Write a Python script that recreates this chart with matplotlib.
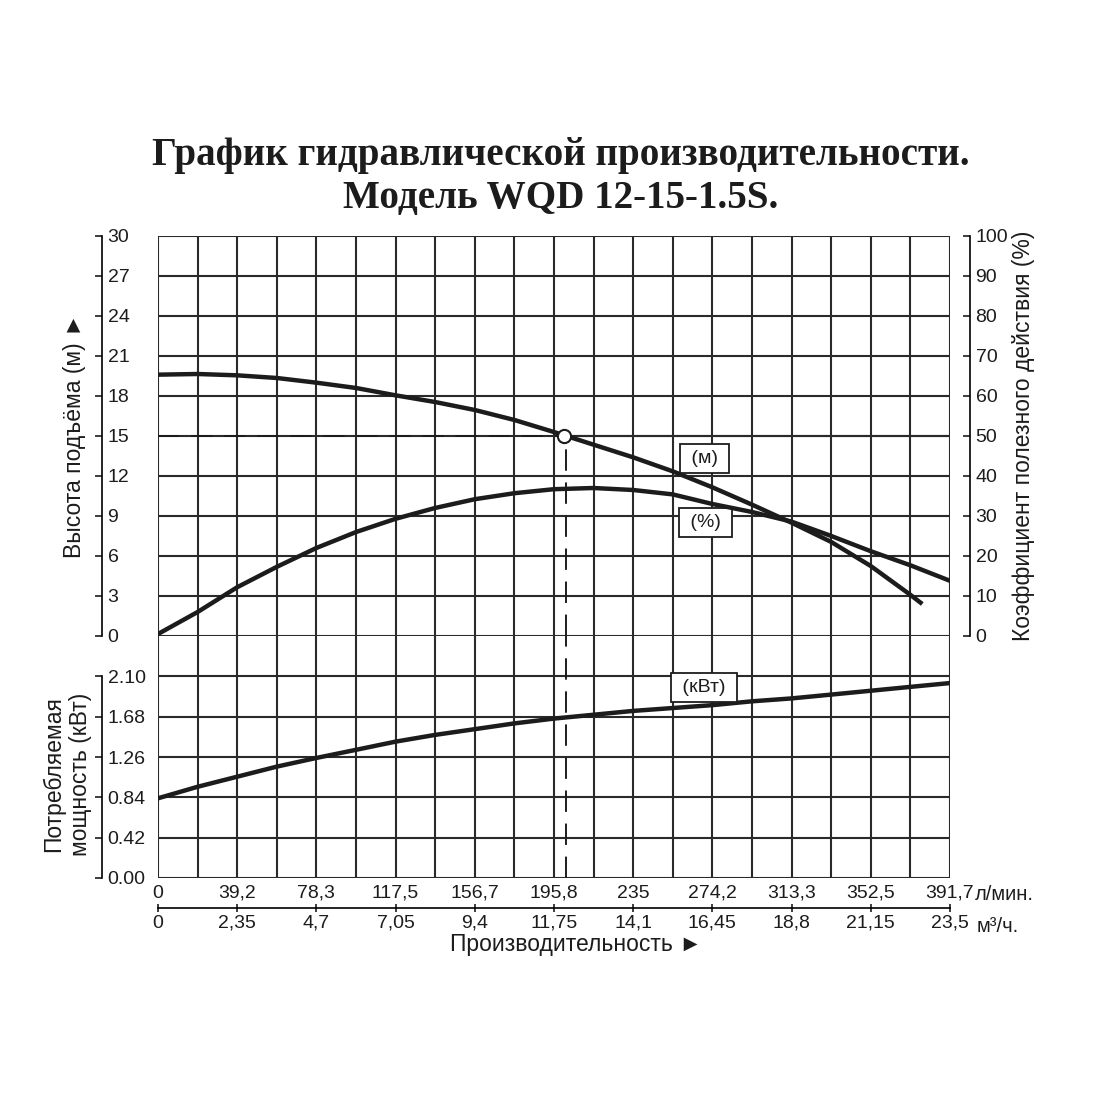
import numpy as np
import matplotlib
matplotlib.use("Agg")
import matplotlib.pyplot as plt

plt.rcParams['font.family'] = ['Liberation Sans', 'DejaVu Sans']

# --- data ---------------------------------------------------------------
q_max = 391.7          # л/мин
m3h_max = 23.5         # м3/ч
design_q = 201.0
design_h = 15.0

head_q = [0, 19.6, 39.2, 58.8, 78.3, 98, 117.5, 137, 156.7, 176.3, 195.8,
          215.4, 235, 254.6, 274.2, 293.8, 313.3, 333, 352.5, 372, 378]
head_m = [19.6, 19.65, 19.55, 19.35, 19.0, 18.6, 18.05, 17.55, 16.95, 16.2, 15.3,
          14.35, 13.4, 12.35, 11.15, 9.85, 8.5, 7.05, 5.25, 3.1, 2.4]

eff_q = [0, 19.6, 39.2, 58.8, 78.3, 98, 117.5, 137, 156.7, 176.3, 195.8,
         215.4, 235, 254.6, 274.2, 293.8, 313.3, 333, 352.5, 372, 391.7]
eff_pct = [0.5, 6.0, 12.2, 17.3, 22.0, 26.0, 29.3, 32.0, 34.2, 35.7, 36.7,
           37.0, 36.5, 35.4, 33.0, 31.0, 28.6, 25.0, 21.2, 17.7, 13.8]

pow_q = [0, 19.6, 39.2, 58.8, 78.3, 98, 117.5, 137, 156.7, 176.3, 195.8,
         215.4, 235, 254.6, 274.2, 293.8, 313.3, 333, 352.5, 372, 391.7]
pow_kw = [0.83, 0.95, 1.055, 1.16, 1.25, 1.335, 1.42, 1.49, 1.55, 1.61, 1.66,
          1.70, 1.74, 1.77, 1.80, 1.84, 1.87, 1.91, 1.95, 1.99, 2.03]

lpm_labels = ["0", "39,2", "78,3", "117,5", "156,7", "195,8", "235",
              "274,2", "313,3", "352,5", "391,7"]
m3h_labels = ["0", "2,35", "4,7", "7,05", "9,4", "11,75", "14,1",
              "16,45", "18,8", "21,15", "23,5"]
head_ticks = list(range(0, 31, 3))
eff_ticks = list(range(0, 101, 10))
pow_ticks = [0.0, 0.42, 0.84, 1.26, 1.68, 2.10]

INK = "#1c1c1c"
GRID = "#2a2a2a"
TICK_FS = 14
LABEL_FS = 16.5

lpm_ticks = np.linspace(0, q_max, 11)
m3h_ticks = np.linspace(0, m3h_max, 11)
grid_q = np.linspace(0, q_max, 21)

fig = plt.figure(figsize=(11, 11), dpi=100)
L, W = 158 / 1100, 792 / 1100
ax_h = fig.add_axes([L, 464 / 1100, W, 400 / 1100])
ax_p = fig.add_axes([L, 222 / 1100, W, 242 / 1100])
ax_e = ax_h.twinx()   # twinx resets ax_h ticks, so make it first

grid_kw = dict(color=GRID, linewidth=1.5)

# --- upper panel: head + efficiency ------------------------------------
ax_h.set_xlim(0, q_max)
ax_h.set_ylim(0, 30)
ax_h.set_xticks(grid_q)
ax_h.tick_params(axis='x', length=0, labelbottom=False)
ax_h.set_yticks(head_ticks)
ax_h.grid(True, **grid_kw)
ax_h.yaxis.get_gridlines()[head_ticks.index(15)].set_visible(False)
ax_h.hlines(design_h, design_q, q_max, zorder=1, **grid_kw)
for s in ['top', 'bottom', 'left']:
    ax_h.spines[s].set_visible(False)
ax_h.yaxis.tick_right()
ax_h.spines['right'].set_visible(True)
ax_h.spines['right'].set_position(('axes', -56 / 792))
ax_h.spines['right'].set_linewidth(1.2)
ax_h.tick_params(axis='y', direction='in', length=5, width=1.2, pad=4,
                 labelsize=TICK_FS, colors=INK, labelcolor=INK)
ax_h.yaxis.set_label_position('left')
ax_h.set_ylabel("Высота подъёма (м) ►", fontsize=LABEL_FS, color=INK)
ax_h.yaxis.set_label_coords(-72 / 792, 0.5)

ax_h.plot(head_q, head_m, color=INK, linewidth=3.2, solid_capstyle='butt', zorder=3)
ax_h.plot([0, design_q - 3], [design_h, design_h], color=INK, linewidth=1.4,
          dashes=(11, 6), zorder=2)
ax_h.plot([design_q + 1, design_q + 1], [0, design_h - 0.6], color=INK, linewidth=1.4,
          dashes=(11, 6), zorder=2)
ax_h.plot([design_q], [design_h], 'o', markersize=9.5, markerfacecolor='white',
          markeredgecolor=INK, markeredgewidth=1.5, zorder=5)

box = dict(boxstyle='square,pad=0.3', facecolor='white', edgecolor=INK, linewidth=1.3)
ax_h.text(270.5, 13.3, " (м) ", fontsize=14, color=INK, ha='center', va='center',
          bbox=box, zorder=6)
ax_h.text(271, 8.5, " (%) ", fontsize=14, color=INK, ha='center', va='center',
          bbox=box, zorder=6)

ax_e.set_ylim(0, 100)
ax_e.set_yticks(eff_ticks)
for s in ['top', 'bottom', 'left']:
    ax_e.spines[s].set_visible(False)
ax_e.spines['right'].set_position(('axes', 1 + 20 / 792))
ax_e.spines['right'].set_linewidth(1.2)
ax_e.tick_params(axis='y', direction='in', length=5, width=1.2, pad=4,
                 labelsize=TICK_FS, colors=INK, labelcolor=INK)
ax_e.set_ylabel("Коэффициент полезного действия (%)", fontsize=LABEL_FS, color=INK,
                rotation=90)
ax_e.yaxis.set_label_coords(854 / 792, 0.5)
ax_e.plot(eff_q, eff_pct, color=INK, linewidth=3.2, zorder=3)

# --- lower panel: power ---------------------------------------------------
ax_p.set_xlim(0, q_max)
ax_p.set_ylim(0, 2.52)
ax_p.set_xticks(lpm_ticks, labels=lpm_labels)
ax_p.set_xticks(grid_q, minor=True)
ax_p.tick_params(axis='x', which='both', length=0, pad=5, labelsize=TICK_FS,
                 labelcolor=INK)
ax_p.set_yticks(pow_ticks, labels=[f"{v:.2f}" for v in pow_ticks])
ax_p.grid(True, which='both', axis='x', **grid_kw)
ax_p.grid(True, axis='y', **grid_kw)
for s in ['top', 'bottom', 'left']:
    ax_p.spines[s].set_visible(False)
ax_p.yaxis.tick_right()
ax_p.spines['right'].set_position(('axes', -56 / 792))
ax_p.spines['right'].set_bounds(0, 2.10)
ax_p.spines['right'].set_linewidth(1.2)
ax_p.tick_params(axis='y', direction='in', length=5, width=1.2, pad=4,
                 labelsize=TICK_FS, colors=INK, labelcolor=INK)
ax_p.text(-91 / 792, 0.43, "Потребляемая\nмощность (кВт)", transform=ax_p.transAxes,
          rotation=90, ha='center', va='center', fontsize=LABEL_FS, color=INK,
          linespacing=1.25, multialignment='center')

ax_p.plot(pow_q, pow_kw, color=INK, linewidth=3.2, zorder=3)
ax_p.plot([design_q + 1, design_q + 1], [0, 2.52], color=INK, linewidth=1.4,
          dashes=(11, 6), zorder=2)
ax_p.text(270, 1.985, " (кВт) ", fontsize=14, color=INK, ha='center', va='center',
          bbox=box, zorder=6)

ratio = m3h_max / q_max
sec = ax_p.secondary_xaxis(-30 / 242, functions=(lambda q: q * ratio, lambda m: m / ratio))
sec.set_xticks(m3h_ticks, labels=m3h_labels)
sec.spines['bottom'].set_linewidth(1.2)
sec.tick_params(axis='x', direction='inout', length=6, width=1.2, pad=2,
                labelsize=TICK_FS, colors=INK, labelcolor=INK)

ax_p.annotate("л/мин.", xy=(1, 0), xycoords='axes fraction', xytext=(18, -5),
              textcoords='offset points', ha='left', va='top', fontsize=14.5, color=INK)
ax_p.annotate("м³/ч.", xy=(1, 0), xycoords='axes fraction', xytext=(19, -28),
              textcoords='offset points', ha='left', va='top', fontsize=14.5, color=INK)
ax_p.text(418 / 792, -66 / 242, "Производительность ►", transform=ax_p.transAxes,
          ha='center', va='center', fontsize=LABEL_FS, color=INK)

# --- title --------------------------------------------------------------
fig.text(561 / 1100, 1 - 177 / 1100,
         "График гидравлической производительности.\nМодель WQD 12-15-1.5S.",
         ha='center', va='center', fontsize=28.2, fontweight='bold', color=INK,
         family=['Liberation Serif', 'DejaVu Serif'], linespacing=1.2)

fig.savefig("out.png", dpi=100, facecolor='white')
